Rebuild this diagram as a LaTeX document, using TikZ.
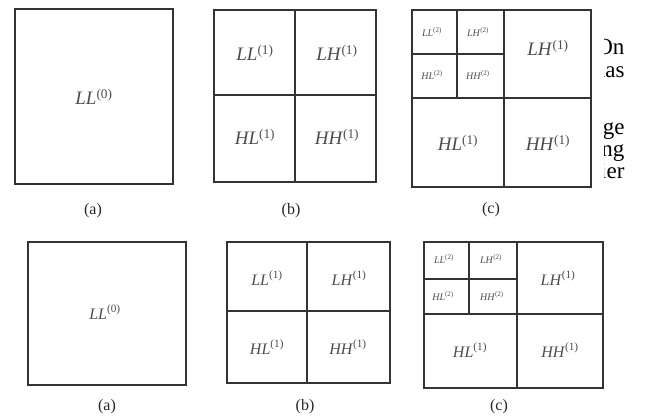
\documentclass[tikz,border=0pt]{standalone}
\usepackage{fontspec}
\setmainfont{Liberation Serif}
\newcommand{\wl}[2]{\textit{#1}\textsuperscript{(#2)}}

\begin{document}
\begin{tikzpicture}[x=1pt, y=-1pt,
        frame/.style={draw=black!80, line width=1.7pt},
        band/.style={font=\fontsize{19}{19}\selectfont, text=black!70},
        bandlow/.style={font=\fontsize{16}{16}\selectfont, text=black!70},
        subband/.style={font=\fontsize{10}{10}\selectfont, text=black!70},
        caption/.style={font=\fontsize{16}{16}\selectfont, text=black!85},
        prose/.style={font=\fontsize{23}{23}\selectfont, anchor=base east}]
        \useasboundingbox (0,0) rectangle (646,416);

        % upper row
        \draw[frame] (15,9) rectangle (173,184);
        \node[band] (ll0) at (94,97) {\wl{LL}{0}};
        \node[caption] (capa) at (93,211) {(a)};

        \draw[frame] (214,10) rectangle (376,182);
        \draw[frame] (295,10) -- (295,182);
        \draw[frame] (214,95) -- (376,95);
        \node[band] (bll) at (255,53) {\wl{LL}{1}};
        \node[band] (blh) at (337,53) {\wl{LH}{1}};
        \node[band] (bhl) at (255,137) {\wl{HL}{1}};
        \node[band] (bhh) at (337,137) {\wl{HH}{1}};
        \node[caption] (capb) at (291,211) {(b)};

        \draw[frame] (412,10) rectangle (591,187);
        \draw[frame] (504,10) -- (504,187);
        \draw[frame] (412,98) -- (591,98);
        \draw[frame] (457,10) -- (457,98);
        \draw[frame] (412,54) -- (504,54);
        \node[subband] (cll2) at (432,32) {\wl{LL}{2}};
        \node[subband] (clh2) at (478,32) {\wl{LH}{2}};
        \node[subband] (chl2) at (432,75) {\wl{HL}{2}};
        \node[subband] (chh2) at (478,75) {\wl{HH}{2}};
        \node[band] (clh) at (548,48) {\wl{LH}{1}};
        \node[band] (chl) at (458,143) {\wl{HL}{1}};
        \node[band] (chh) at (548,143) {\wl{HH}{1}};
        \node[caption] (capc) at (491,210) {(c)};

        % cut-off text of the page
        \begin{scope}
            \clip (604,0) rectangle (646,200);
            \node[prose] (t1) at (628,54) {On};
            \node[prose] (t2) at (628,77) {has};
            \node[prose] (t3) at (628,134) {ge};
            \node[prose] (t4) at (628,156) {ng};
            \node[prose] (t5) at (628,178) {ier};
        \end{scope}

        % lower row
        \draw[frame] (28,242) rectangle (186,385);
        \node[bandlow] (ll0b) at (105,312) {\wl{LL}{0}};
        \node[caption] (capab) at (107,407) {(a)};

        \draw[frame] (227,242) rectangle (390,383);
        \draw[frame] (307,242) -- (307,383);
        \draw[frame] (227,311) -- (390,311);
        \node[bandlow] (ell) at (267,278) {\wl{LL}{1}};
        \node[bandlow] (elh) at (349,278) {\wl{LH}{1}};
        \node[bandlow] (ehl) at (267,347) {\wl{HL}{1}};
        \node[bandlow] (ehh) at (348,347) {\wl{HH}{1}};
        \node[caption] (capbb) at (305,407) {(b)};

        \draw[frame] (424,242) rectangle (603,388);
        \draw[frame] (517,242) -- (517,388);
        \draw[frame] (424,314) -- (603,314);
        \draw[frame] (469,242) -- (469,314);
        \draw[frame] (424,279) -- (517,279);
        \node[subband] (fll2) at (444,259) {\wl{LL}{2}};
        \node[subband] (flh2) at (491,259) {\wl{LH}{2}};
        \node[subband] (fhl2) at (443,296) {\wl{HL}{2}};
        \node[subband] (fhh2) at (492,296) {\wl{HH}{2}};
        \node[bandlow] (flh) at (558,278) {\wl{LH}{1}};
        \node[bandlow] (fhl) at (470,350) {\wl{HL}{1}};
        \node[bandlow] (fhh) at (560,350) {\wl{HH}{1}};
        \node[caption] (capcb) at (499,407) {(c)};
    \end{tikzpicture}
\end{document}
